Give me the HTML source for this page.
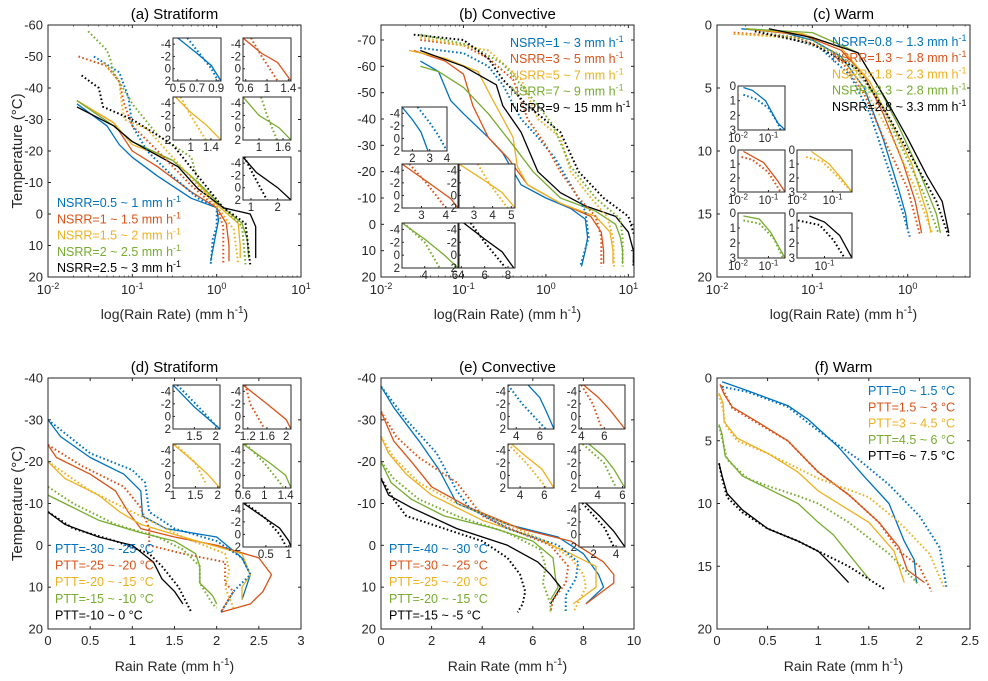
<!DOCTYPE html>
<html><head><meta charset="utf-8"><style>
html,body{margin:0;padding:0;background:#fff;}
svg{display:block;font-family:"Liberation Sans",Arial,sans-serif;}
</style></head><body>
<svg id="fig" width="988" height="681" viewBox="0 0 988 681" xmlns="http://www.w3.org/2000/svg"></svg>
<script>
const seriesColors = ["#0072BD","#D95319","#EDB120","#77AC30","#000000"];

// ---- (a) Stratiform NSRR ----
const aLegend = ["NSRR=0.5 ~ 1 mm h","NSRR=1 ~ 1.5 mm h","NSRR=1.5 ~ 2 mm h","NSRR=2 ~ 2.5 mm h","NSRR=2.5 ~ 3 mm h"];
const aSolid = [
 [[0.022,-35],[0.05,-28],[0.07,-22],[0.1,-18],[0.2,-12],[0.5,-5],[1.0,-2],[1.05,2],[0.95,8],[0.85,15]],
 [[0.022,-36],[0.06,-29],[0.1,-20],[0.2,-15],[0.5,-7],[1.0,-2],[1.3,3],[1.4,10],[1.4,15]],
 [[0.022,-36],[0.06,-29],[0.1,-22],[0.3,-17],[0.5,-12],[1.0,-3],[1.8,3],[1.9,10],[1.9,14]],
 [[0.022,-36],[0.06,-28],[0.1,-23],[0.3,-17],[0.6,-10],[1.2,-2],[2.0,3],[2.3,8],[2.4,14]],
 [[0.022,-34],[0.06,-28],[0.1,-23],[0.35,-15],[0.6,-8],[1.2,-2],[2.5,0],[2.9,4],[2.9,14]]];
const aDotted = [
 [[0.035,-50],[0.07,-45],[0.09,-37],[0.1,-28],[0.15,-20],[0.3,-12],[0.6,-5],[1.0,-2],[1.0,4],[0.9,8],[0.85,16]],
 [[0.023,-50],[0.05,-47],[0.07,-42],[0.08,-35],[0.1,-28],[0.2,-20],[0.5,-9],[1.0,-2],[1.2,4],[1.2,16]],
 [[0.045,-48],[0.07,-42],[0.075,-35],[0.08,-30],[0.15,-27],[0.3,-18],[0.6,-9],[1.1,-1],[1.6,5],[1.8,16]],
 [[0.03,-58],[0.05,-52],[0.055,-49],[0.06,-45],[0.1,-35],[0.2,-25],[0.5,-18],[0.6,-10],[1.2,-2],[2.0,4],[2.2,16]],
 [[0.025,-44],[0.04,-40],[0.045,-34],[0.1,-30],[0.3,-22],[0.6,-12],[1.2,-2],[2.2,3],[2.5,16]]];
const aInsetXlim = [[0.45,0.95],[0.55,1.45],[0.65,1.6],[0.6,1.8],[0.7,2.5]];
const aInsetXticks = [[0.5,0.7,0.9],[0.6,1,1.4],[1,1.4],[1,1.6],[1,2]];
const aInsetSolid = [
 [[0.5,-5],[0.7,-2.5],[0.85,-0.5],[0.95,2]],
 [[0.55,-5],[0.9,-2.5],[1.2,-1],[1.45,2]],
 [[0.7,-5],[1.0,-2.5],[1.3,-0.5],[1.6,2]],
 [[0.6,-5],[1.0,-2],[1.5,0],[1.8,2]],
 [[0.7,-5],[1.2,-2.5],[2.0,0],[2.5,2]]];
const aInsetDotted = [
 [[0.6,-5],[0.7,-3],[0.85,0],[0.92,2]],
 [[0.7,-5],[0.9,-2],[1.2,2]],
 [[0.8,-5],[1.0,-2],[1.3,2]],
 [[1.05,-5],[1.2,-2],[1.45,2]],
 [[0.75,-5],[1.1,-2],[1.6,2]]];

// ---- (b) Convective NSRR ----
const bLegend = ["NSRR=1 ~ 3 mm h","NSRR=3 ~ 5 mm h","NSRR=5 ~ 7 mm h","NSRR=7 ~ 9 mm h","NSRR=9 ~ 15 mm h"];
const bSolid = [
 [[0.03,-62],[0.05,-58],[0.07,-47],[0.1,-42],[0.2,-33],[0.3,-27],[0.5,-15],[1.0,-10],[2,-6],[3,-2],[3.2,5],[3,10],[2.7,16]],
 [[0.025,-66],[0.06,-62],[0.1,-57],[0.13,-45],[0.2,-33],[0.35,-25],[0.6,-15],[1.5,-8],[3.5,-3],[4.7,3],[5,10],[5,15]],
 [[0.022,-66],[0.06,-63],[0.15,-58],[0.22,-48],[0.4,-33],[0.45,-22],[0.6,-15],[1.5,-8],[4,-3],[6,3],[6.5,10],[6.5,15]],
 [[0.03,-60],[0.05,-58],[0.1,-52],[0.2,-42],[0.4,-30],[0.7,-20],[1.5,-10],[4,-5],[7,0],[8,5],[8.5,10],[8.5,15]],
 [[0.03,-66],[0.1,-60],[0.25,-53],[0.3,-45],[0.5,-35],[0.8,-20],[1.5,-12],[3,-7],[7,-3],[10,3],[11.5,10],[11.5,15]]];
const bDotted = [
 [[0.03,-67],[0.1,-65],[0.2,-60],[0.3,-53],[0.5,-40],[0.8,-33],[1.3,-25],[2,-15],[3,-5],[3.3,5],[2.6,16]],
 [[0.03,-70],[0.1,-68],[0.2,-63],[0.4,-55],[0.6,-40],[1.0,-30],[1.5,-20],[2.5,-10],[4,-3],[4.7,5],[4.7,16]],
 [[0.03,-71],[0.2,-66],[0.5,-55],[0.8,-40],[1.5,-33],[2,-20],[3.5,-10],[5.5,-3],[6.5,5],[6.7,16]],
 [[0.03,-72],[0.12,-68],[0.3,-61],[0.6,-50],[1.2,-38],[2,-22],[4,-10],[8,-2],[8.5,5],[8.5,16]],
 [[0.025,-72],[0.1,-70],[0.2,-63],[0.3,-55],[0.6,-45],[1.5,-35],[2.5,-20],[5,-10],[10,-3],[12,5],[11.5,16]]];
const bInsetXlim = [[1.4,4],[2.2,4.5],[2.2,5.2],[2.5,6.2],[3.8,8.6]];
const bInsetXticks = [[2,3,4],[3,4],[3,4,5],[4,6],[4,6,8]];
const bInsetSolid = [
 [[1.4,-5],[2,-3],[2.5,-1],[2.9,2]],
 [[2.2,-5],[3.3,-2],[4.2,0.5],[4.5,2]],
 [[2.2,-5],[3.5,-2.5],[4.5,-0.5],[5.2,2]],
 [[2.5,-5],[4,-2.5],[5.3,0],[6.2,2]],
 [[4.2,-5],[6,-2.5],[7.5,-0.5],[8.5,2]]];
const bInsetDotted = [
 [[2.3,-5],[3,-2.5],[3.5,-0.5],[4,2]],
 [[2.5,-5],[3.2,-2],[4,2]],
 [[3.2,-5],[3.8,-2],[4.8,2]],
 [[2.6,-5],[4,-2],[5,2]],
 [[4.8,-5],[6,-2],[7.8,2]]];

// ---- (c) Warm NSRR ----
const cLegend = ["NSRR=0.8 ~ 1.3 mm h","NSRR=1.3 ~ 1.8 mm h","NSRR=1.8 ~ 2.3 mm h","NSRR=2.3 ~ 2.8 mm h","NSRR=2.8 ~ 3.3 mm h"];
const cSolid = [
 [[0.018,0.3],[0.05,0.6],[0.1,1.2],[0.2,2.5],[0.35,5],[0.55,9],[0.8,13],[0.95,15],[1.0,16.2]],
 [[0.02,0.3],[0.08,0.8],[0.2,2],[0.35,4],[0.55,7],[0.9,11],[1.2,14],[1.4,16.5]],
 [[0.02,0.3],[0.08,0.7],[0.2,1.8],[0.4,4.5],[0.7,8],[1.1,11],[1.6,15],[1.75,16.5]],
 [[0.02,0.3],[0.1,0.6],[0.3,2.2],[0.5,5],[0.8,8],[1.3,11.5],[2.0,15],[2.2,16.5]],
 [[0.035,0.3],[0.1,1],[0.3,2.2],[0.6,6],[1.0,9],[1.6,12],[2.3,14],[2.7,16.5]]];
const cDotted = [
 [[0.015,0.7],[0.05,0.9],[0.12,1.8],[0.25,4],[0.4,7],[0.6,11],[0.9,15],[1.05,16.8]],
 [[0.015,0.6],[0.07,1],[0.18,2.3],[0.35,5.5],[0.6,9.5],[1.0,13],[1.35,16.7]],
 [[0.015,0.7],[0.06,1],[0.18,2.2],[0.35,5],[0.7,9],[1.2,13],[1.8,16.5]],
 [[0.025,0.5],[0.1,1.2],[0.25,3],[0.5,6],[0.9,10],[1.5,13.5],[2.1,16.5]],
 [[0.025,0.5],[0.1,1.5],[0.3,3.5],[0.6,7],[1.2,11],[2.0,14],[2.7,16.8]]];
const cInsetXlim = [[0.01,0.35],[0.01,0.35],[0.01,0.35],[0.01,0.35],[0.0286,0.35]];
const cInsetXticks = [[0.01,0.1],[0.01,0.1],[0.01,0.1],[0.01,0.1],[0.1]];
const cInsetSolid = [
 [[0.015,0.1],[0.03,0.3],[0.08,1],[0.2,2.5],[0.35,3]],
 [[0.015,0.1],[0.07,0.9],[0.2,2.2],[0.35,3]],
 [[0.025,0.1],[0.08,1],[0.2,2.2],[0.35,3]],
 [[0.015,0.2],[0.05,0.4],[0.12,1.3],[0.35,3]],
 [[0.05,0.2],[0.1,0.6],[0.2,1.5],[0.35,3]]];
const cInsetDotted = [
 [[0.015,0.6],[0.04,0.9],[0.1,1.5],[0.2,2.5],[0.25,3]],
 [[0.013,0.5],[0.03,0.7],[0.1,1.6],[0.25,3]],
 [[0.018,0.5],[0.05,0.8],[0.15,2],[0.35,3]],
 [[0.015,0.5],[0.05,0.7],[0.15,1.7],[0.3,3]],
 [[0.03,0.5],[0.08,0.8],[0.15,1.8],[0.25,3]]];

// ---- (d) Stratiform PTT ----
const dLegend = ["PTT=-30 ~ -25 °C","PTT=-25 ~ -20 °C","PTT=-20 ~ -15 °C","PTT=-15 ~ -10 °C","PTT=-10 ~ 0 °C"];
const dSolid = [
 [[0,-30],[0.15,-26],[0.5,-21],[0.9,-17],[1.1,-13],[1.12,-7],[1.4,-4],[2.0,-2],[2.3,3],[2.4,7],[2.3,13]],
 [[0,-24],[0.1,-21],[0.5,-17],[0.8,-13],[0.95,-8],[1.1,-4],[1.5,-2],[2.0,0],[2.5,3],[2.65,7],[2.55,11],[2.4,14],[2.05,16]],
 [[0,-20],[0.2,-16],[0.6,-12],[0.85,-8],[1.1,-5],[1.6,-2],[2.3,2],[2.4,7],[2.3,10],[2.3,13]],
 [[0,-12],[0.2,-10],[0.6,-6],[1.1,-3],[1.5,-1],[1.75,2],[1.8,5],[1.8,9],[1.95,12],[2.0,14]],
 [[0,-8],[0.2,-5],[0.6,-2],[1.0,0],[1.25,4],[1.35,8],[1.5,11],[1.6,14]]];
const dDotted = [
 [[0,-30],[0.5,-22],[1.0,-18],[1.15,-15],[1.2,-8],[1.5,-4],[2.0,-1],[2.3,3],[2.4,7],[2.2,11],[2.05,16]],
 [[0,-24],[0.4,-19],[0.9,-14],[1.1,-9],[1.2,-4],[1.2,0],[1.6,2],[2.1,4],[2.1,9],[2.2,11],[2.05,16]],
 [[0,-20],[0.5,-13],[0.9,-9],[1.2,-6],[1.6,-2],[2.1,2],[2.15,6],[2.1,10],[2.2,15]],
 [[0,-14],[0.3,-10],[0.8,-5],[1.3,-2],[1.6,1],[1.8,5],[1.8,9],[1.95,14],[2.0,15]],
 [[0,-8],[0.3,-4],[0.8,-1],[1.2,2],[1.35,5],[1.55,10],[1.65,14],[1.7,16]]];
const dInsetXlim = [[1.0,2.1],[1.1,2.1],[1.0,2.05],[0.6,1.5],[0,1.05]];
const dInsetXticks = [[1.5,2],[1.2,1.6,2],[1,1.5,2],[0.6,1,1.4],[0.5,1]];
const dInsetSolid = [
 [[1.0,-5],[1.5,-1.5],[2.1,2]],
 [[1.1,-5],[1.6,-2],[2.0,0.5],[2.1,2]],
 [[1.0,-5],[1.5,-2],[1.8,0],[2.05,2]],
 [[0.6,-5],[1.1,-2],[1.4,0],[1.5,2]],
 [[0,-5],[0.4,-3],[0.8,-1],[1.0,1],[1.05,2]]];
const dInsetDotted = [
 [[1.1,-5],[1.6,-1.5],[2.05,1.8]],
 [[1.15,-5],[1.25,-2],[1.55,2]],
 [[1.05,-5],[1.5,-2],[1.75,1.5]],
 [[0.65,-5],[1.0,-2],[1.35,1.8]],
 [[0.05,-5],[0.5,-2.5],[0.8,0],[0.95,2]]];

// ---- (e) Convective PTT ----
const eLegend = ["PTT=-40 ~ -30 °C","PTT=-30 ~ -25 °C","PTT=-25 ~ -20 °C","PTT=-20 ~ -15 °C","PTT=-15 ~ -5 °C"];
const eSolid = [
 [[0,-38],[0.5,-33],[1.5,-25],[2.3,-18],[3,-10],[5,-5],[7,-2],[8,2],[8.6,7],[8.8,10],[8.1,14]],
 [[0,-32],[0.5,-25],[1.2,-20],[2,-14],[3.5,-9],[5.5,-4],[7.5,-1],[8.8,4],[9.2,7],[9.2,9],[8.1,14]],
 [[0,-26],[0.3,-22],[1,-17],[2,-12],[4,-6],[6,-2],[7.5,2],[8.5,5],[8.5,10],[7.6,14]],
 [[0,-20],[0.4,-15],[1.2,-11],[2.5,-7],[4.5,-4],[6,-1],[6.8,3],[6.9,8],[7,10],[6.7,13]],
 [[0,-16],[0.3,-12],[1.2,-9],[3,-4],[5,0],[6.2,4],[6.7,7],[7.1,10],[6.7,14]]];
const eDotted = [
 [[0,-38],[1,-30],[2.2,-22],[3,-13],[3.5,-9],[5,-4],[7,0],[7.8,4],[7.7,8],[7.3,12],[7.3,16]],
 [[0,-32],[0.6,-26],[1.5,-21],[3,-15],[4,-7],[5.5,-3],[6.7,0],[7.4,5],[7.3,9],[6.8,13],[6.7,16]],
 [[0,-26],[0.5,-21],[1.5,-15],[3,-10],[5,-5],[6.5,-1],[7.5,3],[8.0,7],[8.1,10],[7.6,16]],
 [[0,-20],[0.5,-16],[1.5,-11],[3,-7],[5,-3],[6.3,1],[6.5,5],[6.4,9],[6.7,14],[6.7,16]],
 [[0,-16],[0.5,-11],[1,-7],[2.5,-4],[4,-1],[5,3],[5.5,7],[5.7,11],[5.6,14],[5.4,16]]];
const eInsetXlim = [[3.3,7.2],[3.8,7.8],[3,6.8],[2.5,6.2],[0.7,4.8]];
const eInsetXticks = [[4,6],[4,6],[4,6],[4,6],[2,4]];
const eInsetSolid = [
 [[5,-5],[6,-3],[6.5,-1],[7.2,2]],
 [[4.2,-5],[5.5,-3],[6.5,-1],[7.8,2]],
 [[3.3,-5],[4.5,-3],[5.8,-1],[6.8,2]],
 [[3.3,-5],[4.5,-3],[5.3,-1],[6.2,2]],
 [[1.3,-5],[2.5,-3],[3.8,-0.5],[4.8,2]]];
const eInsetDotted = [
 [[3.3,-5],[4.5,-2],[6.5,2]],
 [[4,-5],[5,-2],[5.8,2]],
 [[3,-5],[4.5,-2],[6.2,2]],
 [[2.8,-5],[4.5,-2],[5.5,2]],
 [[1,-5],[2,-3],[3,-1],[3.8,2]]];

// ---- (f) Warm PTT ----
const fLegend = ["PTT=0 ~ 1.5 °C","PTT=1.5 ~ 3 °C","PTT=3 ~ 4.5 °C","PTT=4.5 ~ 6 °C","PTT=6 ~ 7.5 °C"];
const fSolid = [
 [[0.05,0.3],[0.3,1],[0.7,2.2],[0.9,3.3],[1.2,5.5],[1.45,7.8],[1.7,10],[1.85,13],[1.95,14.5],[1.97,16.3]],
 [[0.03,0.5],[0.07,1.3],[0.15,2.3],[0.4,3.5],[0.7,5],[1.0,7.5],[1.3,9.3],[1.6,11.5],[1.8,13.5],[1.88,15.3],[2.05,16.3]],
 [[0.02,1.2],[0.06,2],[0.07,3.5],[0.2,4.8],[0.5,6],[0.8,7.5],[1.0,9],[1.3,10.5],[1.5,11.5],[1.75,13.8],[1.85,16.3]],
 [[0.02,3.7],[0.05,4.5],[0.08,6.2],[0.25,7.8],[0.5,8.8],[0.8,10],[1.0,11.5],[1.15,12.5],[1.4,15],[1.5,16]],
 [[0.02,6.8],[0.05,7.8],[0.1,9.2],[0.25,10.5],[0.5,12],[0.8,13],[1.0,13.8],[1.15,15],[1.3,16.3]]];
const fDotted = [
 [[0.05,0.7],[0.3,1.1],[0.7,2.3],[1.0,4.2],[1.4,6.5],[1.7,8.5],[2.0,11],[2.2,13.5],[2.27,16.8]],
 [[0.04,0.6],[0.15,2.4],[0.4,3.6],[0.7,5],[1.0,7.5],[1.3,9.3],[1.6,11.5],[1.8,13.8],[2.0,15],[2.12,17]],
 [[0.02,1.3],[0.06,2.5],[0.08,3.7],[0.2,5],[0.5,6],[1.0,8],[1.5,9.5],[1.8,11.5],[2.1,14],[2.25,16.8]],
 [[0.02,3.8],[0.07,5.5],[0.1,6.5],[0.3,8],[0.5,8.6],[0.8,9.4],[1.0,10],[1.3,11.5],[1.7,14],[2.0,16.5]],
 [[0.02,6.8],[0.05,8],[0.1,9.5],[0.25,10.7],[0.5,12],[0.8,13],[1.0,13.8],[1.3,15],[1.65,16.8]]];

// ---- layout (positions, not data) ----
const NS = "http://www.w3.org/2000/svg";
const svg = document.getElementById("fig");
function mk(tag, attrs, parent){
  const e = document.createElementNS(NS, tag);
  for (const k in attrs) e.setAttribute(k, attrs[k]);
  (parent||svg).appendChild(e);
  return e;
}
function scale(min,max,p0,p1,log){
  if(log){const a=Math.log10(min),b=Math.log10(max);return v=>p0+(Math.log10(v)-a)/(b-a)*(p1-p0);}
  return v=>p0+(v-min)/(max-min)*(p1-p0);
}
function fmt(v){return String(v);}
function logLabel(g,x,y,v,size,anchor){
  const t=mk("text",{x:x,y:y,"font-size":size,fill:"#262626","text-anchor":anchor||"middle"},g);
  t.textContent="10";
  const s=mk("tspan",{dy:-size*0.4,"font-size":size*0.7},t);
  s.textContent=String(Math.round(Math.log10(v)));
  return t;
}
function drawLines(g, sx, sy, sol, dot, width){
  sol.forEach((ser,i)=>{
    const p=mk("polyline",{points:ser.map(d=>sx(d[0]).toFixed(1)+","+sy(d[1]).toFixed(1)).join(" "),fill:"none",stroke:seriesColors[i],"stroke-width":width||1.3,"stroke-linejoin":"round"},g);
    
    
  });
  dot.forEach((ser,i)=>{
    const p=mk("polyline",{points:ser.map(d=>sx(d[0]).toFixed(1)+","+sy(d[1]).toFixed(1)).join(" "),fill:"none",stroke:seriesColors[i],"stroke-width":2,"stroke-dasharray":"1.6,2.4"},g);
    
    
  });
}

function panel(cfg){
  const g=mk("g",{});
  
  
  const {x0,x1,y0,y1}=cfg;
  const sx=scale(cfg.xlim[0],cfg.xlim[1],x0,x1,cfg.xlog);
  const sy=scale(cfg.ylim[0],cfg.ylim[1],y0,y1,false);
  const clipId="c"+cfg.name;
  const cp=mk("clipPath",{id:clipId},g);
  mk("rect",{x:x0,y:y0,width:x1-x0,height:y1-y0},cp);
  const lg=mk("g",{"clip-path":"url(#"+clipId+")"},g);
  drawLines(lg,sx,sy,cfg.solid,cfg.dotted);
  // box
  const box=mk("rect",{x:x0,y:y0,width:x1-x0,height:y1-y0,fill:"none",stroke:"#262626","stroke-width":1},g);
  
  
  // ticks
  cfg.yticks.forEach(v=>{
    const y=sy(v);
    mk("line",{x1:x0,y1:y,x2:x0+3,y2:y,stroke:"#262626"},g);
    mk("line",{x1:x1,y1:y,x2:x1-3,y2:y,stroke:"#262626"},g);
    const t=mk("text",{x:x0-5,y:y+4.5,"font-size":13,fill:"#262626","text-anchor":"end"},g);
    t.textContent=fmt(v);
    
    
  });
  cfg.xticks.forEach(v=>{
    const x=sx(v);
    mk("line",{x1:x,y1:y1,x2:x,y2:y1-3,stroke:"#262626"},g);
    mk("line",{x1:x,y1:y0,x2:x,y2:y0+3,stroke:"#262626"},g);
    let t;
    if(cfg.xlog) t=logLabel(g,x,y1+17,v,13);
    else {t=mk("text",{x:x,y:y1+16,"font-size":13,fill:"#262626","text-anchor":"middle"},g);t.textContent=fmt(v);}
    
    
  });
  if(cfg.xlog){ // minor ticks
    for(let e=-3;e<2;e++)for(let m=2;m<10;m++){const v=m*Math.pow(10,e);if(v>cfg.xlim[0]&&v<cfg.xlim[1]){const x=sx(v);mk("line",{x1:x,y1:y1,x2:x,y2:y1-1.5,stroke:"#262626","stroke-width":0.7},g);mk("line",{x1:x,y1:y0,x2:x,y2:y0+1.5,stroke:"#262626","stroke-width":0.7},g);}}
  }
  // title
  const tt=mk("text",{x:(x0+x1)/2,y:y0-6,"font-size":15,fill:"#000","text-anchor":"middle"},g);
  tt.textContent=cfg.title;
  
  
  // xlabel
  const xl=mk("text",{x:(x0+x1)/2,y:y1+42,"font-size":14,fill:"#262626","text-anchor":"middle"},g);
  xl.textContent=cfg.xlog?"log(Rain Rate) (mm h":"Rain Rate (mm h";
  const xs=mk("tspan",{dy:-6,"font-size":10},xl);xs.textContent="-1";
  const xe=mk("tspan",{dy:6},xl);xe.textContent=")";
  
  
  if(cfg.ylabel){
    const yc=(y0+y1)/2;
    const yl=mk("text",{x:0,y:0,transform:"translate(22,"+yc+") rotate(-90)","font-size":15,fill:"#262626","text-anchor":"middle"},g);
    yl.textContent="Temperature (°C)";
    
    
  }
  // legend
  cfg.legend.forEach((s,i)=>{
    const t=mk("text",{x:cfg.legX,y:cfg.legY+i*cfg.legDy,"font-size":12.5,fill:seriesColors[i]},g);
    t.textContent=s;
    if(s.indexOf("mm h")>=0){const sp=mk("tspan",{dy:-5,"font-size":9},t);sp.textContent="-1";}
    
    
  });
  // insets
  cfg.insets.forEach((r,i)=>{
    if(!r) return;
    const ig=mk("g",{},g);
    
    
    const [ix0,iy0,ix1,iy1]=r;
    mk("rect",{x:ix0,y:iy0,width:ix1-ix0,height:iy1-iy0,fill:"#fff",stroke:"none"},ig);
    const isx=scale(cfg.insetXlim[i][0],cfg.insetXlim[i][1],ix0,ix1,cfg.insetLog);
    const isy=scale(cfg.insetYlim[0],cfg.insetYlim[1],iy0,iy1,false);
    const icid="ic"+cfg.name+i;
    const icp=mk("clipPath",{id:icid},ig);
    mk("rect",{x:ix0,y:iy0,width:ix1-ix0,height:iy1-iy0},icp);
    const il=mk("g",{"clip-path":"url(#"+icid+")"},ig);
    drawLines(il,isx,isy,[],[],1.2);
    const sol=cfg.insetSolid[i], dot=cfg.insetDotted[i];
    const p1=mk("polyline",{points:sol.map(d=>isx(d[0]).toFixed(1)+","+isy(d[1]).toFixed(1)).join(" "),fill:"none",stroke:cfg.insetColor[i],"stroke-width":1.3},il);
    
    
    const p2=mk("polyline",{points:dot.map(d=>isx(d[0]).toFixed(1)+","+isy(d[1]).toFixed(1)).join(" "),fill:"none",stroke:cfg.insetColor[i],"stroke-width":2,"stroke-dasharray":"1.6,2.4"},il);
    
    
    mk("rect",{x:ix0,y:iy0,width:ix1-ix0,height:iy1-iy0,fill:"none",stroke:"#262626","stroke-width":1},ig);
    cfg.insetYticks.forEach(v=>{
      const y=isy(v);
      mk("line",{x1:ix0,y1:y,x2:ix0+2,y2:y,stroke:"#262626"},ig);
      const t=mk("text",{x:ix0-2,y:y+4,"font-size":11.5,fill:"#262626","text-anchor":"end"},ig);
      t.textContent=fmt(v);
    });
    cfg.insetXticks[i].forEach(v=>{
      const x=isx(v);
      mk("line",{x1:x,y1:iy1,x2:x,y2:iy1-2,stroke:"#262626"},ig);
      if(cfg.insetLog) logLabel(ig,x,iy1+12,v,11.5);
      else {const t=mk("text",{x:x,y:iy1+11,"font-size":11.5,fill:"#262626","text-anchor":"middle"},ig);t.textContent=fmt(v);}
    });
  });
}

const colIdx=[0,1,2,3,4];
const insetColor=colIdx.map(i=>seriesColors[i]);
const negTicks=[-4,-2,0,2];

panel({name:"panel-a",title:"(a) Stratiform",x0:48,x1:301,y0:25,y1:277,xlim:[0.01,10],xlog:true,ylim:[-60,20],
  yticks:[-60,-50,-40,-30,-20,-10,0,10,20],xticks:[0.01,0.1,1,10],ylabel:true,solid:aSolid,dotted:aDotted,
  legend:aLegend,legX:57,legY:207,legDy:16.3,
  insets:[[173,38,221,81],[243,38,291,81],[173,97,221,140],[243,97,291,140],[243,157,291,200]],
  insetXlim:aInsetXlim,insetXticks:aInsetXticks,insetSolid:aInsetSolid,insetDotted:aInsetDotted,insetYlim:[-5,2],insetYticks:negTicks,insetLog:false,insetColor});
panel({name:"panel-b",title:"(b) Convective",x0:381,x1:634,y0:25,y1:277,xlim:[0.01,11.7],xlog:true,ylim:[-75.7,20],
  yticks:[-70,-60,-50,-40,-30,-20,-10,0,10,20],xticks:[0.01,0.1,1,10],ylabel:false,solid:bSolid,dotted:bDotted,
  legend:bLegend,legX:510,legY:47,legDy:16.2,
  insets:[[402,107,447,151],[402,164,458,208],[459,164,515,208],[402,223,458,268],[459,223,515,268]],
  insetXlim:bInsetXlim,insetXticks:bInsetXticks,insetSolid:bInsetSolid,insetDotted:bInsetDotted,insetYlim:[-5,2],insetYticks:negTicks,insetLog:false,insetColor});
panel({name:"panel-c",title:"(c) Warm",x0:717,x1:970,y0:25,y1:277,xlim:[0.01,4.5],xlog:true,ylim:[0,20],
  yticks:[0,5,10,15,20],xticks:[0.01,0.1,1],ylabel:false,solid:cSolid,dotted:cDotted,
  legend:cLegend,legX:832,legY:46,legDy:16.2,
  insets:[[738,86,785,130],[738,150,785,192],[797,150,852,192],[738,213,785,258],[797,213,852,258]],
  insetXlim:cInsetXlim,insetXticks:cInsetXticks,insetSolid:cInsetSolid,insetDotted:cInsetDotted,insetYlim:[0,3],insetYticks:[0,1,2,3],insetLog:true,insetColor});
panel({name:"panel-d",title:"(d) Stratiform",x0:48,x1:301,y0:378,y1:629,xlim:[0,3],xlog:false,ylim:[-40,20],
  yticks:[-40,-30,-20,-10,0,10,20],xticks:[0,0.5,1,1.5,2,2.5,3],ylabel:true,solid:dSolid,dotted:dDotted,
  legend:dLegend,legX:55,legY:553,legDy:16.6,
  insets:[[173,385,220,429],[243,385,291,429],[173,444,220,488],[243,444,291,488],[243,503,291,547]],
  insetXlim:dInsetXlim,insetXticks:dInsetXticks,insetSolid:dInsetSolid,insetDotted:dInsetDotted,insetYlim:[-5,2],insetYticks:negTicks,insetLog:false,insetColor});
panel({name:"panel-e",title:"(e) Convective",x0:381,x1:634,y0:378,y1:629,xlim:[0,10],xlog:false,ylim:[-40,20],
  yticks:[-40,-30,-20,-10,0,10,20],xticks:[0,2,4,6,8,10],ylabel:false,solid:eSolid,dotted:eDotted,
  legend:eLegend,legX:389,legY:553,legDy:16.6,
  insets:[[508,385,554,429],[579,385,625,429],[508,444,554,488],[579,444,625,488],[579,503,625,547]],
  insetXlim:eInsetXlim,insetXticks:eInsetXticks,insetSolid:eInsetSolid,insetDotted:eInsetDotted,insetYlim:[-5,2],insetYticks:negTicks,insetLog:false,insetColor});
panel({name:"panel-f",title:"(f) Warm",x0:717,x1:970,y0:378,y1:629,xlim:[0,2.5],xlog:false,ylim:[0,20],
  yticks:[0,5,10,15,20],xticks:[0,0.5,1,1.5,2,2.5],ylabel:false,solid:fSolid,dotted:fDotted,
  legend:fLegend,legX:868,legY:395,legDy:16.3,
  insets:[],insetXlim:[],insetXticks:[],insetSolid:[],insetDotted:[],insetYlim:[0,1],insetYticks:[],insetLog:false,insetColor});
</script>
</body></html>
